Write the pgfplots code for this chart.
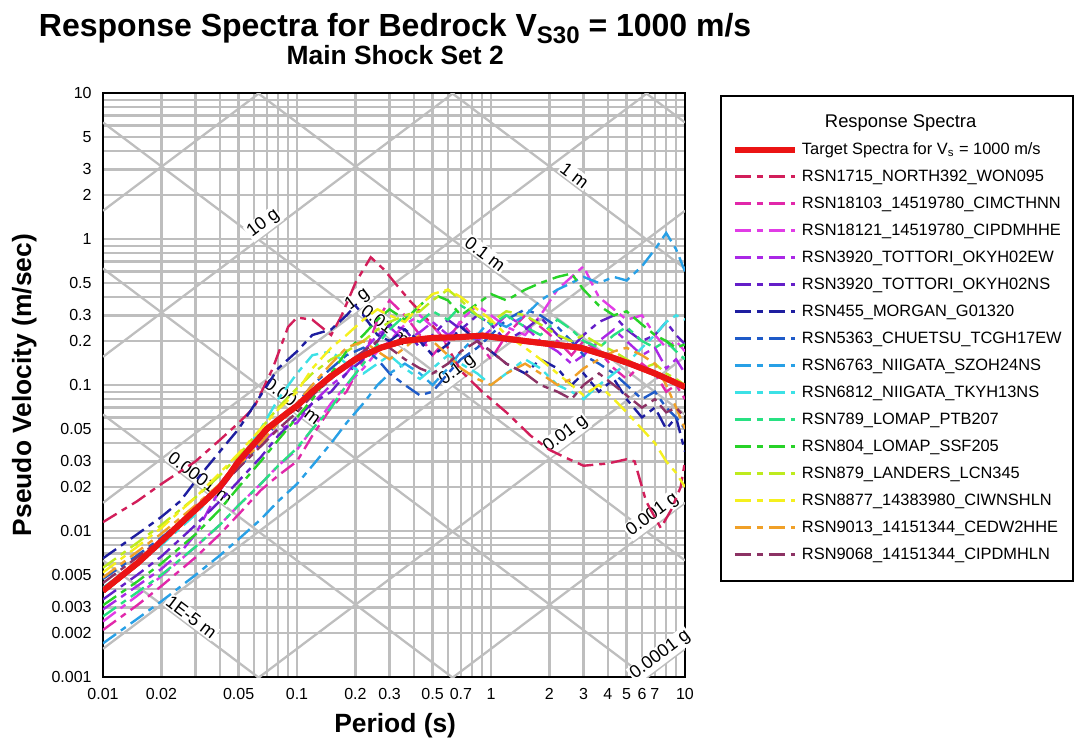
\documentclass[border=0pt]{standalone}
\usepackage{fontspec}
\setmainfont{Liberation Sans}
\usepackage{pgfplots}
\pgfplotsset{compat=1.18}

% colours of the record spectra
\definecolor{gridc}{RGB}{190,190,190}
\definecolor{ctarget}{RGB}{235,20,20}
\definecolor{cA}{RGB}{210,30,90}
\definecolor{cB}{RGB}{225,40,170}
\definecolor{cC}{RGB}{225,60,230}
\definecolor{cD}{RGB}{170,40,230}
\definecolor{cE}{RGB}{100,30,200}
\definecolor{cF}{RGB}{30,30,160}
\definecolor{cG}{RGB}{30,90,200}
\definecolor{cH}{RGB}{40,160,230}
\definecolor{cI}{RGB}{60,225,230}
\definecolor{cJ}{RGB}{40,225,130}
\definecolor{cK}{RGB}{40,210,40}
\definecolor{cL}{RGB}{190,235,30}
\definecolor{cM}{RGB}{245,240,30}
\definecolor{cN}{RGB}{240,160,40}
\definecolor{cO}{RGB}{140,50,100}

\tikzset{
  rec/.style={line width=1.2pt, dash pattern=on 8pt off 3pt on 3pt off 3pt},
  diag/.style={draw=gridc, line width=1.15pt},
  dlab/.style={fill=white, inner sep=0.6pt, anchor=south, font=\fontsize{9}{9}\selectfont},
}

\begin{document}
\begin{tikzpicture}
\useasboundingbox (-51.5pt,-33.5pt) rectangle (485.5pt,338.5pt);
\begin{axis}[
  at={(0pt,0pt)}, anchor=south west,
  scale only axis, width=291pt, height=292pt,
  xmode=log, ymode=log,
  xmin=0.01, xmax=10, ymin=0.001, ymax=10,
  clip mode=individual,
  xtick={0.01,0.02,0.05,0.1,0.2,0.3,0.5,0.7,1,2,3,4,5,6,7,10},
  xticklabels={0.01,0.02,0.05,0.1,0.2,0.3,0.5,0.7,1,2,3,4,5,6,7,10},
  minor xtick={0.03,0.04,0.06,0.07,0.08,0.09,0.4,0.6,0.8,0.9,8,9},
  ytick={0.001,0.002,0.003,0.005,0.01,0.02,0.03,0.05,0.1,0.2,0.3,0.5,1,2,3,5,10},
  yticklabels={0.001,0.002,0.003,0.005,0.01,0.02,0.03,0.05,0.1,0.2,0.3,0.5,1,2,3,5,10},
  minor ytick={0.004,0.006,0.007,0.008,0.009,0.04,0.06,0.07,0.08,0.09,0.4,0.6,0.7,0.8,0.9,4,6,7,8,9},
  grid=both,
  major grid style={draw=gridc, line width=1.15pt},
  minor grid style={draw=gridc, line width=1.15pt},
  major tick length=0pt, minor tick length=0pt,
  axis line style={line width=1.2pt, black},
  yticklabel style={font=\fontsize{8}{9}\selectfont, inner sep=0pt, anchor=east, xshift=-5.5pt},
  xticklabel style={font=\fontsize{8}{9}\selectfont, inner sep=0pt, anchor=north, yshift=-5.5pt},
  xlabel={Period (s)},
  ylabel={Pseudo Velocity (m/sec)},
  xlabel style={font=\fontsize{13.2}{15}\bfseries, at={(axis description cs:0.502,-0.0616)}, anchor=north, inner sep=0pt},
  ylabel style={font=\fontsize{13.2}{15}\bfseries, at={(axis description cs:-0.1134,0.5)}, anchor=south, inner sep=0pt},
  legend image code/.code={\draw[#1] (0pt,0pt) -- (30pt,0pt);},
  legend cell align=left,
  legend style={at={(axis description cs:1.0601,0.9966)}, anchor=north west,
    draw=black, line width=1pt, fill=white,
    font=\fontsize{8.2}{10}\selectfont,
    inner xsep=5.5pt, inner ysep=9pt,
    column sep=2pt, row sep=5pt,
    nodes={inner sep=0pt, text height=6.5pt, text depth=2pt}},
]

% constant pseudo-acceleration lines (g)
\addplot[diag, forget plot] coordinates {(0.01,1.5613) (10,1561.3)};
\addplot[diag, forget plot] coordinates {(0.01,0.15613) (10,156.13)};
\addplot[diag, forget plot] coordinates {(0.01,0.015613) (10,15.613)};
\addplot[diag, forget plot] coordinates {(0.01,0.0015613) (10,1.5613)};
\addplot[diag, forget plot] coordinates {(0.01,0.00015613) (10,0.15613)};
\addplot[diag, forget plot] coordinates {(0.01,0.000015613) (10,0.015613)};
\addplot[diag, forget plot] coordinates {(0.01,0.0000015613) (10,0.0015613)};
% constant spectral displacement lines (m)
\addplot[diag, forget plot] coordinates {(0.01,6283.2) (10,6.2832)};
\addplot[diag, forget plot] coordinates {(0.01,628.32) (10,0.62832)};
\addplot[diag, forget plot] coordinates {(0.01,62.832) (10,0.062832)};
\addplot[diag, forget plot] coordinates {(0.01,6.2832) (10,0.0062832)};
\addplot[diag, forget plot] coordinates {(0.01,0.62832) (10,0.00062832)};
\addplot[diag, forget plot] coordinates {(0.01,0.062832) (10,0.000062832)};
\addplot[diag, forget plot] coordinates {(0.01,0.0062832) (10,0.0000062832)};

% labels of the tripartite lines
\node[dlab, rotate=37] at (axis cs:0.072,1.124) {10 g};
\node[dlab, rotate=37] at (axis cs:0.22,0.3435) {1 g};
\node[dlab, rotate=37] at (axis cs:0.72,0.1124) {0.1 g};
\node[dlab, rotate=37] at (axis cs:2.6,0.0406) {0.01 g};
\node[dlab, rotate=37] at (axis cs:7.3,0.0114) {0.001 g};
\node[dlab, rotate=37] at (axis cs:8.0,0.001249) {0.0001 g};
\node[dlab, rotate=-37] at (axis cs:2.55,2.464) {1 m};
\node[dlab, rotate=-37] at (axis cs:0.88,0.714) {0.1 m};
\node[dlab, rotate=-37] at (axis cs:0.27,0.2327) {0.01 m};
\node[dlab, rotate=-37] at (axis cs:0.09,0.0698) {0.001 m};
\node[dlab, rotate=-37] at (axis cs:0.03,0.02094) {0.0001 m};
\node[dlab, rotate=-37] at (axis cs:0.027,0.002327) {1E-5 m};

\addlegendimage{empty legend}
\addlegendentry{\hspace{11.5pt}\fontsize{9.2}{10}\selectfont Response Spectra}

% target spectrum
\addplot[ctarget, line width=3pt] coordinates {
(0.01,0.0039) (0.015,0.0060) (0.02,0.0085) (0.03,0.0140) (0.04,0.0200) (0.045,0.0245)
(0.05,0.0300) (0.07,0.0500) (0.09,0.0650) (0.1,0.0720) (0.12,0.0900) (0.15,0.1150)
(0.2,0.150) (0.27,0.180) (0.35,0.200) (0.5,0.210) (0.7,0.213) (0.9,0.218) (1.5,0.200)
(2.9,0.180) (4,0.158) (5.2,0.140) (7,0.120) (10,0.097)};
\addlegendentry{Target Spectra for V\textsubscript{s} = 1000 m/s}

\addplot[rec, cA] coordinates {
(0.01,0.0115) (0.015,0.016) (0.02,0.021) (0.03,0.030) (0.04,0.042) (0.05,0.055)
(0.06,0.070) (0.075,0.13) (0.09,0.25) (0.1,0.29) (0.12,0.28) (0.15,0.22) (0.17,0.30)
(0.2,0.50) (0.24,0.75) (0.28,0.62) (0.32,0.50) (0.38,0.38) (0.45,0.30) (0.55,0.22)
(0.7,0.125) (0.9,0.09) (1.2,0.065) (1.6,0.045) (2,0.036) (2.4,0.032) (3,0.028)
(4,0.029) (5,0.031) (5.5,0.030) (6.3,0.016) (7.5,0.0105) (8.5,0.014) (9.5,0.020) (10,0.030)};
\addlegendentry{RSN1715\_NORTH392\_WON095}

\addplot[rec, cB] coordinates {
(0.01,0.0021) (0.015,0.0031) (0.02,0.0042) (0.03,0.0066) (0.04,0.0095) (0.05,0.013)
(0.065,0.019) (0.08,0.024) (0.1,0.030) (0.12,0.045) (0.15,0.070) (0.18,0.090) (0.22,0.15)
(0.26,0.28) (0.3,0.38) (0.36,0.30) (0.43,0.22) (0.5,0.16) (0.6,0.21) (0.7,0.27) (0.85,0.20)
(1,0.15) (1.2,0.22) (1.5,0.30) (1.8,0.25) (2.2,0.20) (2.6,0.16) (3,0.20) (3.6,0.17)
(4.3,0.13) (5,0.11) (6,0.14) (7,0.12) (8,0.09) (9,0.10) (10,0.08)};
\addlegendentry{RSN18103\_14519780\_CIMCTHNN}

\addplot[rec, cC] coordinates {
(0.01,0.0024) (0.015,0.0036) (0.02,0.0049) (0.03,0.0078) (0.04,0.011) (0.05,0.015)
(0.065,0.021) (0.08,0.028) (0.1,0.036) (0.12,0.050) (0.15,0.075) (0.18,0.10) (0.22,0.13)
(0.26,0.17) (0.3,0.20) (0.36,0.26) (0.43,0.30) (0.5,0.25) (0.6,0.20) (0.7,0.28) (0.85,0.35)
(1,0.30) (1.2,0.25) (1.5,0.22) (1.8,0.30) (2.2,0.45) (2.6,0.55) (3,0.65) (3.3,0.50)
(3.6,0.40) (4.3,0.33) (5,0.28) (6,0.30) (7,0.22) (8,0.18) (9,0.20) (10,0.17)};
\addlegendentry{RSN18121\_14519780\_CIPDMHHE}

\addplot[rec, cD] coordinates {
(0.01,0.0029) (0.015,0.0042) (0.02,0.0055) (0.025,0.0071) (0.03,0.0095) (0.035,0.014)
(0.04,0.019) (0.05,0.028) (0.065,0.040) (0.08,0.050) (0.1,0.055) (0.12,0.075) (0.15,0.10)
(0.18,0.12) (0.22,0.17) (0.26,0.22) (0.3,0.25) (0.36,0.20) (0.43,0.23) (0.5,0.27) (0.6,0.22)
(0.7,0.25) (0.85,0.20) (1,0.24) (1.2,0.30) (1.5,0.25) (1.8,0.20) (2.2,0.17) (2.6,0.14)
(3,0.16) (3.6,0.20) (4.3,0.24) (5,0.20) (6,0.16) (7,0.18) (8,0.13) (9,0.15) (10,0.12)};
\addlegendentry{RSN3920\_TOTTORI\_OKYH02EW}

\addplot[rec, cE] coordinates {
(0.01,0.0034) (0.015,0.0050) (0.02,0.0067) (0.03,0.011) (0.04,0.016) (0.05,0.022)
(0.065,0.032) (0.08,0.045) (0.1,0.060) (0.12,0.075) (0.15,0.090) (0.18,0.12) (0.22,0.15)
(0.26,0.20) (0.3,0.26) (0.36,0.24) (0.43,0.18) (0.5,0.22) (0.6,0.28) (0.7,0.24) (0.85,0.30)
(1,0.26) (1.2,0.20) (1.5,0.24) (1.8,0.29) (2.2,0.22) (2.6,0.18) (3,0.22) (3.6,0.27)
(4.3,0.30) (5,0.24) (6,0.20) (7,0.22) (8,0.27) (9,0.22) (10,0.19)};
\addlegendentry{RSN3920\_TOTTORI\_OKYH02NS}

\addplot[rec, cF] coordinates {
(0.01,0.0065) (0.015,0.0095) (0.02,0.0125) (0.025,0.016) (0.03,0.022) (0.04,0.035)
(0.05,0.050) (0.065,0.085) (0.08,0.13) (0.1,0.17) (0.12,0.22) (0.15,0.24) (0.18,0.30)
(0.2,0.35) (0.22,0.30) (0.26,0.22) (0.3,0.20) (0.36,0.24) (0.43,0.20) (0.5,0.16) (0.6,0.19)
(0.7,0.25) (0.85,0.20) (1,0.17) (1.2,0.14) (1.5,0.12) (1.8,0.15) (2.2,0.13) (2.6,0.10)
(3,0.12) (3.6,0.09) (4.3,0.11) (5,0.08) (6,0.06) (7,0.07) (8,0.05) (9,0.06) (10,0.035)};
\addlegendentry{RSN455\_MORGAN\_G01320}

\addplot[rec, cG] coordinates {
(0.01,0.0047) (0.015,0.0068) (0.02,0.009) (0.03,0.014) (0.04,0.020) (0.05,0.027)
(0.065,0.040) (0.08,0.055) (0.1,0.075) (0.12,0.10) (0.15,0.13) (0.18,0.16) (0.22,0.18)
(0.26,0.15) (0.3,0.12) (0.36,0.10) (0.43,0.085) (0.5,0.09) (0.6,0.12) (0.7,0.15) (0.85,0.18)
(1,0.22) (1.2,0.28) (1.5,0.33) (1.8,0.30) (2.2,0.25) (2.6,0.20) (3,0.16) (3.6,0.14)
(4.3,0.12) (5,0.10) (6,0.08) (7,0.09) (8,0.07) (9,0.06) (10,0.05)};
\addlegendentry{RSN5363\_CHUETSU\_TCGH17EW}

\addplot[rec, cH] coordinates {
(0.01,0.0017) (0.015,0.0025) (0.02,0.0033) (0.03,0.005) (0.04,0.0068) (0.05,0.0088)
(0.065,0.012) (0.08,0.016) (0.1,0.021) (0.12,0.028) (0.15,0.040) (0.18,0.055) (0.22,0.075)
(0.26,0.10) (0.3,0.12) (0.36,0.14) (0.43,0.12) (0.5,0.10) (0.6,0.13) (0.7,0.17) (0.85,0.22)
(1,0.28) (1.2,0.25) (1.5,0.30) (1.8,0.38) (2.2,0.45) (2.6,0.50) (3,0.55) (3.6,0.50)
(4.3,0.55) (5,0.52) (6,0.65) (7,0.85) (8,1.10) (9,0.85) (10,0.60)};
\addlegendentry{RSN6763\_NIIGATA\_SZOH24NS}

\addplot[rec, cI] coordinates {
(0.01,0.0041) (0.015,0.006) (0.02,0.008) (0.03,0.013) (0.04,0.020) (0.05,0.030)
(0.065,0.050) (0.08,0.080) (0.1,0.12) (0.12,0.16) (0.15,0.17) (0.18,0.14) (0.22,0.12)
(0.26,0.14) (0.3,0.16) (0.36,0.13) (0.43,0.11) (0.5,0.13) (0.6,0.16) (0.7,0.14) (0.85,0.12)
(1,0.10) (1.2,0.12) (1.5,0.15) (1.8,0.13) (2.2,0.10) (2.6,0.09) (3,0.08) (3.6,0.10)
(4.3,0.12) (5,0.14) (6,0.18) (7,0.22) (8,0.27) (9,0.30) (10,0.28)};
\addlegendentry{RSN6812\_NIIGATA\_TKYH13NS}

\addplot[rec, cJ] coordinates {
(0.01,0.0026) (0.015,0.0038) (0.02,0.005) (0.03,0.0078) (0.04,0.011) (0.05,0.015)
(0.065,0.021) (0.08,0.028) (0.1,0.037) (0.12,0.050) (0.15,0.070) (0.18,0.10) (0.22,0.14)
(0.26,0.19) (0.3,0.24) (0.36,0.30) (0.43,0.27) (0.5,0.32) (0.6,0.28) (0.7,0.35) (0.85,0.30)
(1,0.26) (1.2,0.30) (1.5,0.25) (1.8,0.22) (2.2,0.28) (2.6,0.24) (3,0.20) (3.6,0.18)
(4.3,0.22) (5,0.25) (6,0.20) (7,0.18) (8,0.20) (9,0.17) (10,0.15)};
\addlegendentry{RSN789\_LOMAP\_PTB207}

\addplot[rec, cK] coordinates {
(0.01,0.0031) (0.015,0.0045) (0.02,0.006) (0.03,0.0095) (0.04,0.014) (0.05,0.020)
(0.065,0.030) (0.08,0.042) (0.1,0.060) (0.12,0.080) (0.15,0.12) (0.18,0.17) (0.22,0.22)
(0.26,0.28) (0.3,0.33) (0.36,0.28) (0.43,0.35) (0.5,0.42) (0.6,0.38) (0.7,0.30) (0.85,0.36)
(1,0.42) (1.2,0.38) (1.5,0.45) (1.8,0.50) (2.2,0.55) (2.6,0.58) (3,0.45) (3.6,0.35)
(4.3,0.30) (5,0.32) (6,0.26) (7,0.22) (8,0.20) (9,0.18) (10,0.19)};
\addlegendentry{RSN804\_LOMAP\_SSF205}

\addplot[rec, cL] coordinates {
(0.01,0.0056) (0.015,0.0083) (0.02,0.011) (0.03,0.017) (0.04,0.024) (0.05,0.033)
(0.065,0.050) (0.08,0.070) (0.1,0.095) (0.12,0.12) (0.15,0.15) (0.18,0.17) (0.22,0.20)
(0.26,0.24) (0.3,0.27) (0.36,0.30) (0.43,0.32) (0.5,0.38) (0.6,0.45) (0.7,0.38) (0.85,0.30)
(1,0.27) (1.2,0.32) (1.5,0.30) (1.8,0.26) (2.2,0.22) (2.6,0.20) (3,0.22) (3.6,0.19)
(4.3,0.17) (5,0.15) (6,0.13) (7,0.14) (8,0.12) (9,0.11) (10,0.10)};
\addlegendentry{RSN879\_LANDERS\_LCN345}

\addplot[rec, cM] coordinates {
(0.01,0.0052) (0.015,0.0078) (0.02,0.0105) (0.03,0.017) (0.04,0.025) (0.05,0.034)
(0.065,0.050) (0.08,0.068) (0.1,0.090) (0.12,0.13) (0.15,0.18) (0.18,0.22) (0.22,0.28)
(0.26,0.33) (0.3,0.30) (0.36,0.27) (0.43,0.35) (0.5,0.42) (0.6,0.45) (0.7,0.40) (0.85,0.33)
(1,0.28) (1.2,0.22) (1.5,0.18) (1.8,0.15) (2.2,0.12) (2.6,0.10) (3,0.085) (3.6,0.10)
(4.3,0.08) (5,0.065) (6,0.05) (7,0.04) (8,0.03) (9,0.025) (10,0.02)};
\addlegendentry{RSN8877\_14383980\_CIWNSHLN}

\addplot[rec, cN] coordinates {
(0.01,0.0048) (0.015,0.0072) (0.02,0.0096) (0.03,0.015) (0.04,0.021) (0.05,0.028)
(0.065,0.040) (0.08,0.055) (0.1,0.075) (0.12,0.10) (0.15,0.14) (0.18,0.18) (0.22,0.20)
(0.26,0.17) (0.3,0.15) (0.36,0.18) (0.43,0.22) (0.5,0.20) (0.6,0.16) (0.7,0.13) (0.85,0.11)
(1,0.10) (1.2,0.12) (1.5,0.14) (1.8,0.12) (2.2,0.10) (2.6,0.11) (3,0.13) (3.6,0.15)
(4.3,0.17) (5,0.18) (6,0.16) (7,0.14) (8,0.10) (9,0.07) (10,0.05)};
\addlegendentry{RSN9013\_14151344\_CEDW2HHE}

\addplot[rec, cO] coordinates {
(0.01,0.0044) (0.015,0.0066) (0.02,0.0088) (0.03,0.014) (0.04,0.020) (0.05,0.027)
(0.065,0.038) (0.08,0.050) (0.1,0.065) (0.12,0.085) (0.15,0.11) (0.18,0.14) (0.22,0.17)
(0.26,0.20) (0.3,0.18) (0.36,0.15) (0.43,0.13) (0.5,0.12) (0.6,0.14) (0.7,0.17) (0.85,0.20)
(1,0.17) (1.2,0.14) (1.5,0.12) (1.8,0.10) (2.2,0.09) (2.6,0.08) (3,0.10) (3.6,0.12)
(4.3,0.10) (5,0.085) (6,0.07) (7,0.08) (8,0.065) (9,0.07) (10,0.06)};
\addlegendentry{RSN9068\_14151344\_CIPDMHLN}

% target drawn again above the records
\addplot[ctarget, line width=3pt, forget plot] coordinates {
(0.01,0.0039) (0.015,0.0060) (0.02,0.0085) (0.03,0.0140) (0.04,0.0200) (0.045,0.0245)
(0.05,0.0300) (0.07,0.0500) (0.09,0.0650) (0.1,0.0720) (0.12,0.0900) (0.15,0.1150)
(0.2,0.150) (0.27,0.180) (0.35,0.200) (0.5,0.210) (0.7,0.213) (0.9,0.218) (1.5,0.200)
(2.9,0.180) (4,0.158) (5.2,0.140) (7,0.120) (10,0.097)};

% titles
\node[anchor=base, font=\fontsize{16}{19}\bfseries] at (axis description cs:0.502,1.0976)
  {Response Spectra for Bedrock V\raisebox{-3.5pt}{\fontsize{12}{12}\bfseries S30} = 1000 m/s};
\node[anchor=base, font=\fontsize{13.2}{15}\bfseries] at (axis description cs:0.502,1.048)
  {Main Shock Set 2};
\end{axis}
\end{tikzpicture}
\end{document}
